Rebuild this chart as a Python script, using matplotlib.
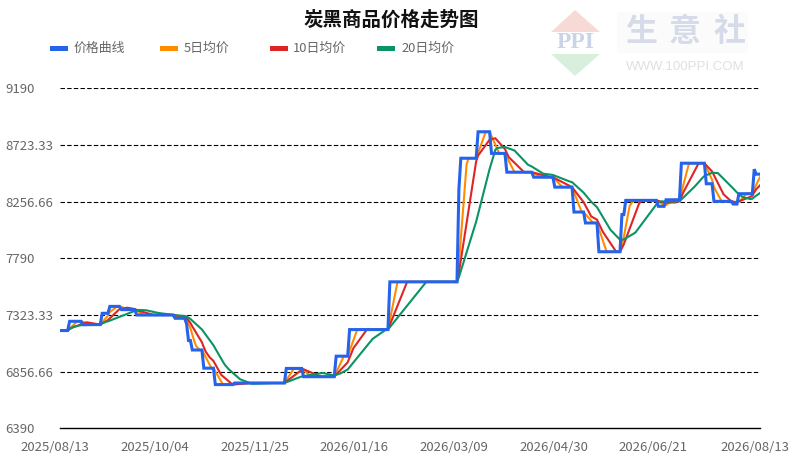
import numpy as np
import pandas as pd
import matplotlib
matplotlib.use("Agg")
import matplotlib.pyplot as plt
from matplotlib.patches import Polygon, Rectangle
import matplotlib.transforms as mtrans

plt.rcParams['font.family'] = ['Noto Sans CJK SC', 'DejaVu Sans']

# ---------------- data ----------------
title = "炭黑商品价格走势图"
series_names = ["价格曲线", "5日均价", "10日均价", "20日均价"]
series_colors = ["#2563eb", "#ff8c00", "#dc2626", "#0a9462"]
ma_windows = [5, 10, 20]

# price curve: dates on which the price changes, and the new price
change_dates = [
    "2025-08-13", "2025-08-18", "2025-08-25", "2025-09-04", "2025-09-08",
    "2025-09-14", "2025-09-22", "2025-10-12", "2025-10-18", "2025-10-19",
    "2025-10-21", "2025-10-27", "2025-11-02", "2025-11-12", "2025-12-09",
    "2025-12-18", "2026-01-04", "2026-01-11", "2026-02-01", "2026-03-09",
    "2026-03-10", "2026-03-19", "2026-03-26", "2026-04-03", "2026-04-17",
    "2026-04-28", "2026-05-08", "2026-05-14", "2026-05-21", "2026-06-02",
    "2026-06-04", "2026-06-21", "2026-06-25", "2026-07-03", "2026-07-16",
    "2026-07-20", "2026-07-30", "2026-08-02", "2026-08-10", "2026-08-11",
]
change_values = [
    7195, 7271, 7244, 7337, 7394,
    7367, 7323, 7296, 7250, 7113,
    7035, 6885, 6750, 6763, 6883,
    6815, 6984, 7203, 7596, 8360,
    8614, 8832, 8654, 8499, 8458,
    8376, 8171, 8081, 7844, 8150,
    8267, 8218, 8272, 8573, 8404,
    8259, 8237, 8322, 8524, 8483,
]
end_date = "2026-08-13"

x_tick_dates = ["2025-08-13", "2025-10-04", "2025-11-25", "2026-01-16",
                "2026-03-09", "2026-04-30", "2026-06-21", "2026-08-13"]
x_tick_labels = ["2025/08/13", "2025/10/04", "2025/11/25", "2026/01/16",
                 "2026/03/09", "2026/04/30", "2026/06/21", "2026/08/13"]
y_ticks = [6390, 6856.66, 7323.33, 7790, 8256.66, 8723.33, 9190]
y_tick_labels = ["6390", "6856.66", "7323.33", "7790", "8256.66", "8723.33", "9190"]

# ---------------- build daily series ----------------
days = pd.date_range(change_dates[0], end_date, freq="D")
price = pd.Series(change_values, index=pd.to_datetime(change_dates)).reindex(days, method="ffill")
mas = [price.rolling(w, min_periods=1).mean() for w in ma_windows]

# ---------------- figure ----------------
W, H = 790, 458
fig = plt.figure(figsize=(W / 100, H / 100), dpi=100)
fig.patch.set_facecolor("white")

# overlay in pixel coordinates for title, legend, logo
ov = fig.add_axes([0, 0, 1, 1], zorder=0)
ov.set_xlim(0, W)
ov.set_ylim(H, 0)
ov.axis("off")

# main plot area
left, right, top, bottom = 60, 760, 88.3, 428.3
ax = fig.add_axes([left / W, (H - bottom) / H, (right - left) / W, (bottom - top) / H], zorder=1)
ax.set_facecolor("none")

xd = days.to_pydatetime()
for i, (ma, col) in enumerate(zip(mas, series_colors[1:])):
    ax.plot(xd, ma.values, color=col, lw=1.5, zorder=3 + i, solid_joinstyle="miter")
ax.plot(xd, price.values, color=series_colors[0], lw=2.2, zorder=8,
        solid_joinstyle="miter", solid_capstyle="butt")

ax.set_xlim(pd.Timestamp(x_tick_dates[0]), pd.Timestamp(x_tick_dates[-1]))
ax.set_ylim(y_ticks[0], y_ticks[-1])

for yv in y_ticks[1:]:
    ax.axhline(yv, color="black", lw=0.8, linestyle=(0, (4, 2)), zorder=1)

for s in ["left", "right", "top"]:
    ax.spines[s].set_visible(False)
ax.spines["bottom"].set_color("black")
ax.spines["bottom"].set_linewidth(1.0)

ax.set_yticks(y_ticks)
ax.set_yticklabels(y_tick_labels, ha="left", color="#666666", fontsize=9.5)
ax.tick_params(axis="y", length=0, pad=39.6)

tick_ts = [pd.Timestamp(d) for d in x_tick_dates]
ax.set_xticks(tick_ts)
ax.set_xticklabels(x_tick_labels, color="#666666", fontsize=9.5)
ax.set_xticks(tick_ts[1:-1], minor=True)
ax.tick_params(axis="x", which="major", length=0, pad=9)
ax.tick_params(axis="x", which="minor", length=3.6, width=0.8, color="black", direction="out")
offset = mtrans.ScaledTranslation(-5 / 100, 0, fig.dpi_scale_trans)
for lab in ax.get_xticklabels():
    lab.set_transform(lab.get_transform() + offset)

# title
ov.text(391, 20, title, ha="center", va="center", fontsize=14, fontweight="bold", color="#111111")

# legend
leg_rect_x = [50, 160, 270, 377]
leg_text_x = [74, 184, 293, 401]
for name, col, rx, tx in zip(series_names, series_colors, leg_rect_x, leg_text_x):
    ov.add_patch(Rectangle((rx, 45.8), 18, 5, color=col, lw=0))
    ov.text(tx, 48.3, name, ha="left", va="center", fontsize=9.3, color="#666666")

# watermark logo
ov.add_patch(Polygon([(551, 32), (575, 10), (600, 32)], closed=True, color="#f7dad6", lw=0))
ov.add_patch(Polygon([(551, 54), (600, 54), (575, 76)], closed=True, color="#d9efdd", lw=0))
ov.text(575.5, 43, "PPI", ha="center", va="center", fontsize=17, fontweight="bold",
        family=["Liberation Serif", "DejaVu Serif"], color="#cbd4e6")
ov.add_patch(Rectangle((617, 12), 131, 41, color="#fbfbfb", lw=0))
for ch, cx in zip("生意社", [641, 685, 730]):
    ov.text(cx, 32, ch, ha="center", va="center", fontsize=23, fontweight="bold", color="#d5dbe8")
ov.text(685.5, 66.5, "WWW.100PPI.COM", ha="center", va="center", fontsize=9.5,
        family=["Liberation Sans", "DejaVu Sans"], color="#e0e0e0")

fig.savefig("out.png", dpi=100, facecolor="white")
